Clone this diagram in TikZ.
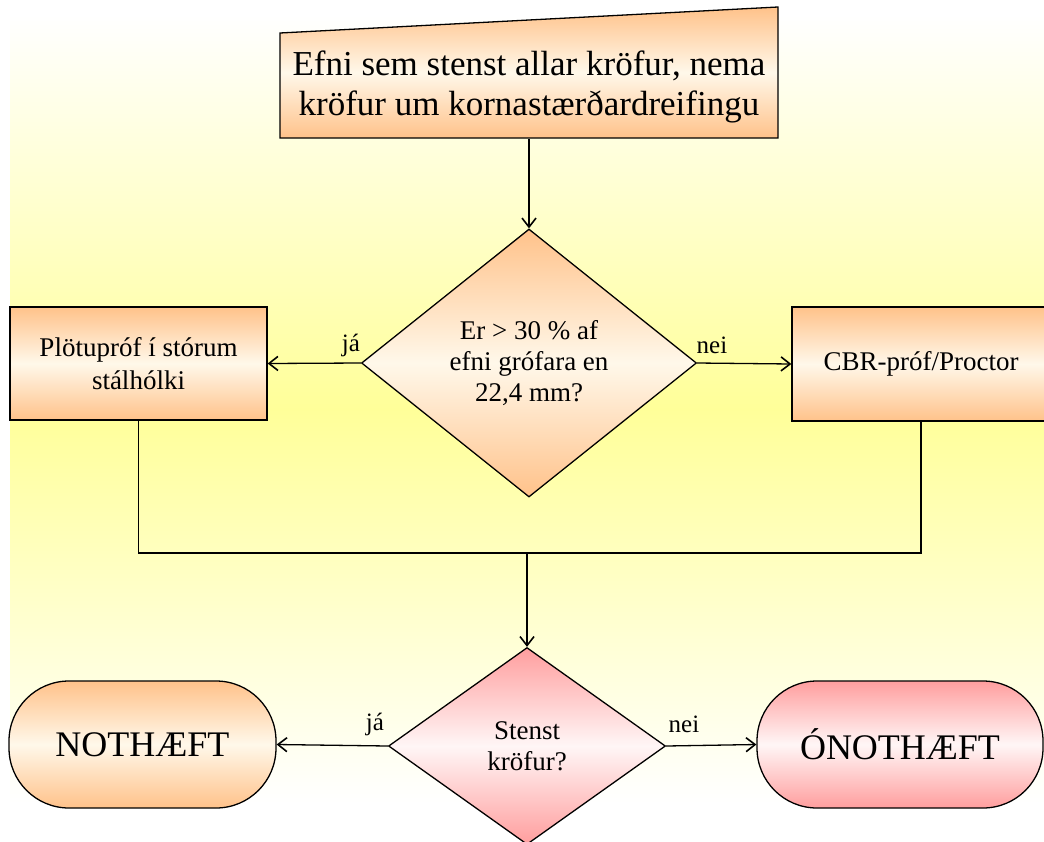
\documentclass[tikz,border=0pt]{standalone}
\usepackage{fontspec}
\setmainfont{Liberation Serif}
\usetikzlibrary{shapes.geometric,arrows.meta,calc}
\definecolor{orgdark}{HTML}{FFC28A}
\definecolor{orglight}{HTML}{FFF8EA}
\definecolor{pinkdark}{HTML}{FF9E9E}
\definecolor{pinklight}{HTML}{FFF6F6}
\definecolor{bgyellow}{HTML}{FFFF99}
\begin{document}
\begin{tikzpicture}[x=1pt,y=-1pt,
  orangefill/.style={top color=orgdark,bottom color=orgdark,middle color=orglight},
  pinkfill/.style={top color=pinkdark,bottom color=pinkdark,middle color=pinklight},
  outline/.style={draw=black,line width=1.3pt},
  procbox/.style={outline,orangefill,rectangle,align=center,inner sep=0pt,
    font=\fontsize{27}{33}\selectfont},
  decision/.style={outline,diamond,align=center,inner sep=0pt,
    font=\fontsize{27}{31}\selectfont},
  terminal/.style={outline,rectangle,rounded corners=60pt,inner sep=0pt,
    font=\fontsize{36}{40}\selectfont},
  conn/.style={line width=1.3pt},
  arr/.style={conn,-{Straight Barb[length=9pt,width=14pt,line width=1.6pt]}},
  answer/.style={font=\fontsize{25}{28}\selectfont,inner sep=0pt}]
\useasboundingbox (0,0) rectangle (1044,841);

% page background
\shade[top color=white,bottom color=white,middle color=bgyellow] (10,15) rectangle (1050,803);

% manual-input box at the top
\path[outline,orangefill] (280,33) -- (778,7) -- (778,138) -- (280,138) -- cycle;
\node[align=center,inner sep=0pt,minimum width=498,minimum height=105,
  font=\fontsize{35}{40}\selectfont] (start) at (529,86.5)
  {Efni sem stenst allar kröfur, nema\\kröfur um kornastærðardreifingu};

% first decision and the two tests
\node[decision,orangefill,minimum width=335,minimum height=268] (q1) at (529,363)
  {Er > 30 \% af\\efni grófara en\\22,4 mm?};
\node[procbox,minimum width=257,minimum height=113] (plate) at (138.5,363.5)
  {Plötupróf í stórum\\stálhólki};
\node[procbox,minimum width=258,minimum height=114] (cbr) at (921,364)
  {CBR-próf/Proctor};

% second decision and the outcomes
\node[decision,pinkfill,minimum width=277,minimum height=197] (q2) at (527,746)
  {Stenst\\kröfur?};
\node[terminal,orangefill,minimum width=267,minimum height=127] (ok) at (142.5,744.5)
  {NOTHÆFT};
\node[terminal,pinkfill,minimum width=286,minimum height=127] (notok) at (900,744.5)
  {ÓNOTHÆFT};

% connectors
\draw[arr] (start.south) -- (q1.north);
\draw[arr] (q1.west) -- (plate.east);
\draw[arr] (q1.east) -- (cbr.west);
\coordinate (join) at (527,553);
\draw[conn] (plate.south) |- (join) -| (cbr.south);
\draw[arr] (join) -- (q2.north);
\draw[arr] (q2.west) -- (ok.east);
\draw[arr] (q2.east) -- (notok.west);

% answer labels
\node[answer] (yes1) at (351,345) {já};
\node[answer] (no1) at (712,345) {nei};
\node[answer] (yes2) at (375,724) {já};
\node[answer] (no2) at (684,724) {nei};
\end{tikzpicture}
\end{document}
